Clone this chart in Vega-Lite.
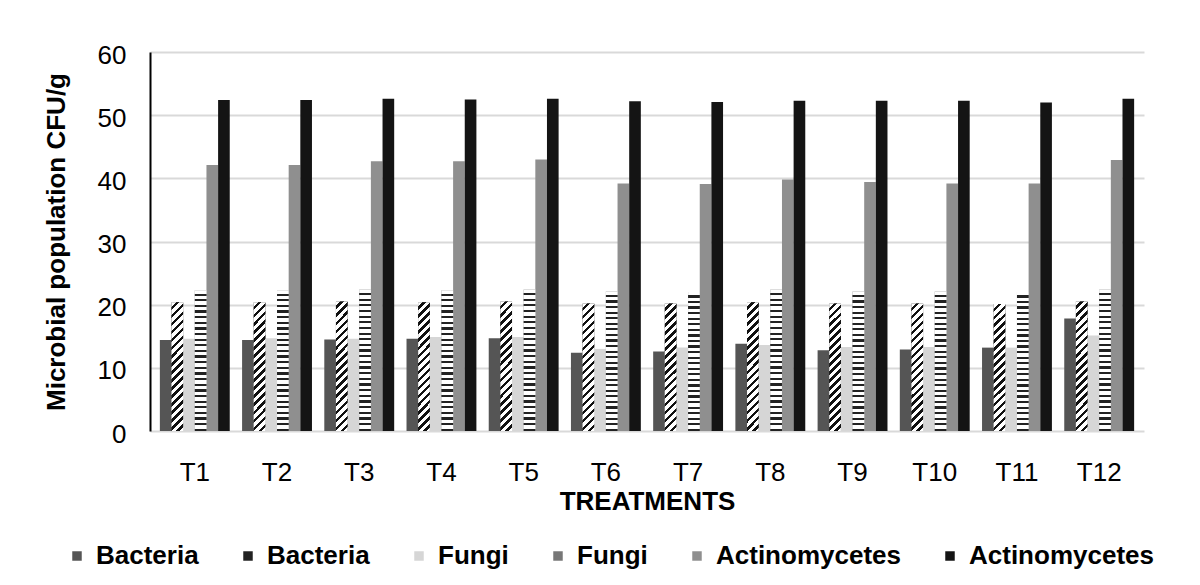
{
  "$schema": "https://vega.github.io/schema/vega-lite/v6.json",
  "autosize": {"type": "none"},
  "padding": {"left": 150, "top": 52, "right": 56, "bottom": 154},
  "width": 994,
  "height": 379,
  "background": "white",
  "config": {
    "font": "Liberation Sans",
    "view": {"stroke": null},
    "axis": {"labelColor": "black", "titleColor": "black", "labelFont": "Liberation Sans", "titleFont": "Liberation Sans"}
  },
  "data": {
    "values": [
      {"t": "T1", "s": "Bacteria 1", "v": 14.4}, {"t": "T1", "s": "Bacteria 2", "v": 20.4}, {"t": "T1", "s": "Fungi 1", "v": 14.6}, {"t": "T1", "s": "Fungi 2", "v": 22.3}, {"t": "T1", "s": "Actinomycetes 1", "v": 42.1}, {"t": "T1", "s": "Actinomycetes 2", "v": 52.4},
      {"t": "T2", "s": "Bacteria 1", "v": 14.4}, {"t": "T2", "s": "Bacteria 2", "v": 20.4}, {"t": "T2", "s": "Fungi 1", "v": 14.7}, {"t": "T2", "s": "Fungi 2", "v": 22.3}, {"t": "T2", "s": "Actinomycetes 1", "v": 42.1}, {"t": "T2", "s": "Actinomycetes 2", "v": 52.4},
      {"t": "T3", "s": "Bacteria 1", "v": 14.5}, {"t": "T3", "s": "Bacteria 2", "v": 20.5}, {"t": "T3", "s": "Fungi 1", "v": 14.6}, {"t": "T3", "s": "Fungi 2", "v": 22.4}, {"t": "T3", "s": "Actinomycetes 1", "v": 42.7}, {"t": "T3", "s": "Actinomycetes 2", "v": 52.6},
      {"t": "T4", "s": "Bacteria 1", "v": 14.6}, {"t": "T4", "s": "Bacteria 2", "v": 20.4}, {"t": "T4", "s": "Fungi 1", "v": 14.9}, {"t": "T4", "s": "Fungi 2", "v": 22.3}, {"t": "T4", "s": "Actinomycetes 1", "v": 42.7}, {"t": "T4", "s": "Actinomycetes 2", "v": 52.5},
      {"t": "T5", "s": "Bacteria 1", "v": 14.7}, {"t": "T5", "s": "Bacteria 2", "v": 20.5}, {"t": "T5", "s": "Fungi 1", "v": 14.9}, {"t": "T5", "s": "Fungi 2", "v": 22.4}, {"t": "T5", "s": "Actinomycetes 1", "v": 43.0}, {"t": "T5", "s": "Actinomycetes 2", "v": 52.6},
      {"t": "T6", "s": "Bacteria 1", "v": 12.4}, {"t": "T6", "s": "Bacteria 2", "v": 20.2}, {"t": "T6", "s": "Fungi 1", "v": 13.0}, {"t": "T6", "s": "Fungi 2", "v": 22.1}, {"t": "T6", "s": "Actinomycetes 1", "v": 39.2}, {"t": "T6", "s": "Actinomycetes 2", "v": 52.2},
      {"t": "T7", "s": "Bacteria 1", "v": 12.6}, {"t": "T7", "s": "Bacteria 2", "v": 20.2}, {"t": "T7", "s": "Fungi 1", "v": 13.2}, {"t": "T7", "s": "Fungi 2", "v": 22.0}, {"t": "T7", "s": "Actinomycetes 1", "v": 39.1}, {"t": "T7", "s": "Actinomycetes 2", "v": 52.1},
      {"t": "T8", "s": "Bacteria 1", "v": 13.8}, {"t": "T8", "s": "Bacteria 2", "v": 20.4}, {"t": "T8", "s": "Fungi 1", "v": 13.6}, {"t": "T8", "s": "Fungi 2", "v": 22.4}, {"t": "T8", "s": "Actinomycetes 1", "v": 39.8}, {"t": "T8", "s": "Actinomycetes 2", "v": 52.3},
      {"t": "T9", "s": "Bacteria 1", "v": 12.8}, {"t": "T9", "s": "Bacteria 2", "v": 20.2}, {"t": "T9", "s": "Fungi 1", "v": 13.3}, {"t": "T9", "s": "Fungi 2", "v": 22.1}, {"t": "T9", "s": "Actinomycetes 1", "v": 39.4}, {"t": "T9", "s": "Actinomycetes 2", "v": 52.3},
      {"t": "T10", "s": "Bacteria 1", "v": 12.9}, {"t": "T10", "s": "Bacteria 2", "v": 20.2}, {"t": "T10", "s": "Fungi 1", "v": 13.3}, {"t": "T10", "s": "Fungi 2", "v": 22.1}, {"t": "T10", "s": "Actinomycetes 1", "v": 39.2}, {"t": "T10", "s": "Actinomycetes 2", "v": 52.3},
      {"t": "T11", "s": "Bacteria 1", "v": 13.2}, {"t": "T11", "s": "Bacteria 2", "v": 20.1}, {"t": "T11", "s": "Fungi 1", "v": 13.2}, {"t": "T11", "s": "Fungi 2", "v": 22.0}, {"t": "T11", "s": "Actinomycetes 1", "v": 39.2}, {"t": "T11", "s": "Actinomycetes 2", "v": 52.0},
      {"t": "T12", "s": "Bacteria 1", "v": 17.8}, {"t": "T12", "s": "Bacteria 2", "v": 20.5}, {"t": "T12", "s": "Fungi 1", "v": 15.1}, {"t": "T12", "s": "Fungi 2", "v": 22.4}, {"t": "T12", "s": "Actinomycetes 1", "v": 42.9}, {"t": "T12", "s": "Actinomycetes 2", "v": 52.6}
    ]
  },
  "encoding": {
    "x": {
      "field": "t", "type": "nominal", "sort": null,
      "scale": {"paddingInner": 0.15, "paddingOuter": 0.12},
      "axis": {
        "title": "TREATMENTS", "titleFontSize": 26, "titleFontWeight": "bold", "titlePadding": 3,
        "labelFontSize": 26, "labelAngle": 0, "labelPadding": 28,
        "domain": false, "ticks": false, "tickSize": 0, "grid": false
      }
    },
    "xOffset": {
      "field": "s", "type": "nominal",
      "scale": {"domain": ["Bacteria 1", "Bacteria 2", "Fungi 1", "Fungi 2", "Actinomycetes 1", "Actinomycetes 2"], "paddingInner": 0, "paddingOuter": 0}
    },
    "y": {
      "field": "v", "type": "quantitative",
      "scale": {"domain": [0, 60], "nice": false},
      "axis": {
        "title": "Microbial population CFU/g", "titleFontSize": 26, "titleFontWeight": "bold", "titlePadding": 28,
        "values": [0, 10, 20, 30, 40, 50, 60],
        "labelFontSize": 26, "labelPadding": 24, "labelOffset": 3,
        "ticks": false, "tickSize": 0,
        "domain": true, "domainColor": "black", "domainWidth": 2,
        "grid": true, "gridColor": "#d9d9d9", "gridWidth": 2
      }
    }
  },
  "layer": [
    {
      "mark": {"type": "bar", "strokeWidth": 0},
      "encoding": {
        "color": {
          "field": "s", "type": "nominal",
          "scale": {
            "domain": ["Bacteria 1", "Bacteria 2", "Fungi 1", "Fungi 2", "Actinomycetes 1", "Actinomycetes 2"],
            "range": ["#555555", "#222222", "#d6d6d6", "#777777", "#8f8f8f", "#141414"]
          },
          "legend": {
            "orient": "none", "legendX": -86, "legendY": 491,
            "direction": "horizontal", "columns": 6, "title": null, "gridAlign": "each",
            "labelExpr": "split(datum.label, ' ')[0]", "labelLimit": 400,
            "labelFontSize": 26, "labelFontWeight": "bold", "labelColor": "black", "labelFont": "Liberation Sans",
            "symbolType": "square", "symbolSize": 90, "symbolStrokeWidth": 0, "labelOffset": 6, "columnPadding": 36
          }
        }
      }
    },
    {
      "transform": [{"filter": "datum.s == 'Bacteria 2'"}],
      "mark": {"type": "bar", "strokeWidth": 0, "color": {"gradient": "linear", "x1": 0, "y1": 0, "x2": 0.113, "y2": 1.24, "stops": [
            {"offset": 0, "color": "#ffffff"}, {"offset": 0.0275, "color": "#ffffff"}, {"offset": 0.0275, "color": "#111111"}, {"offset": 0.05, "color": "#111111"},
            {"offset": 0.05, "color": "#ffffff"}, {"offset": 0.0775, "color": "#ffffff"}, {"offset": 0.0775, "color": "#111111"}, {"offset": 0.1, "color": "#111111"},
            {"offset": 0.1, "color": "#ffffff"}, {"offset": 0.1275, "color": "#ffffff"}, {"offset": 0.1275, "color": "#111111"}, {"offset": 0.15, "color": "#111111"},
            {"offset": 0.15, "color": "#ffffff"}, {"offset": 0.1775, "color": "#ffffff"}, {"offset": 0.1775, "color": "#111111"}, {"offset": 0.2, "color": "#111111"},
            {"offset": 0.2, "color": "#ffffff"}, {"offset": 0.2275, "color": "#ffffff"}, {"offset": 0.2275, "color": "#111111"}, {"offset": 0.25, "color": "#111111"},
            {"offset": 0.25, "color": "#ffffff"}, {"offset": 0.2775, "color": "#ffffff"}, {"offset": 0.2775, "color": "#111111"}, {"offset": 0.3, "color": "#111111"},
            {"offset": 0.3, "color": "#ffffff"}, {"offset": 0.3275, "color": "#ffffff"}, {"offset": 0.3275, "color": "#111111"}, {"offset": 0.35, "color": "#111111"},
            {"offset": 0.35, "color": "#ffffff"}, {"offset": 0.3775, "color": "#ffffff"}, {"offset": 0.3775, "color": "#111111"}, {"offset": 0.4, "color": "#111111"},
            {"offset": 0.4, "color": "#ffffff"}, {"offset": 0.4275, "color": "#ffffff"}, {"offset": 0.4275, "color": "#111111"}, {"offset": 0.45, "color": "#111111"},
            {"offset": 0.45, "color": "#ffffff"}, {"offset": 0.4775, "color": "#ffffff"}, {"offset": 0.4775, "color": "#111111"}, {"offset": 0.5, "color": "#111111"},
            {"offset": 0.5, "color": "#ffffff"}, {"offset": 0.5275, "color": "#ffffff"}, {"offset": 0.5275, "color": "#111111"}, {"offset": 0.55, "color": "#111111"},
            {"offset": 0.55, "color": "#ffffff"}, {"offset": 0.5775, "color": "#ffffff"}, {"offset": 0.5775, "color": "#111111"}, {"offset": 0.6, "color": "#111111"},
            {"offset": 0.6, "color": "#ffffff"}, {"offset": 0.6275, "color": "#ffffff"}, {"offset": 0.6275, "color": "#111111"}, {"offset": 0.65, "color": "#111111"},
            {"offset": 0.65, "color": "#ffffff"}, {"offset": 0.6775, "color": "#ffffff"}, {"offset": 0.6775, "color": "#111111"}, {"offset": 0.7, "color": "#111111"},
            {"offset": 0.7, "color": "#ffffff"}, {"offset": 0.7275, "color": "#ffffff"}, {"offset": 0.7275, "color": "#111111"}, {"offset": 0.75, "color": "#111111"},
            {"offset": 0.75, "color": "#ffffff"}, {"offset": 0.7775, "color": "#ffffff"}, {"offset": 0.7775, "color": "#111111"}, {"offset": 0.8, "color": "#111111"},
            {"offset": 0.8, "color": "#ffffff"}, {"offset": 0.8275, "color": "#ffffff"}, {"offset": 0.8275, "color": "#111111"}, {"offset": 0.85, "color": "#111111"},
            {"offset": 0.85, "color": "#ffffff"}, {"offset": 0.8775, "color": "#ffffff"}, {"offset": 0.8775, "color": "#111111"}, {"offset": 0.9, "color": "#111111"},
            {"offset": 0.9, "color": "#ffffff"}, {"offset": 0.9275, "color": "#ffffff"}, {"offset": 0.9275, "color": "#111111"}, {"offset": 0.95, "color": "#111111"},
            {"offset": 0.95, "color": "#ffffff"}, {"offset": 0.9775, "color": "#ffffff"}, {"offset": 0.9775, "color": "#111111"}, {"offset": 1, "color": "#111111"}
          ]}}
    },
    {
      "transform": [{"filter": "datum.s == 'Fungi 2'"}],
      "mark": {"type": "bar", "strokeWidth": 0, "color": {"gradient": "linear", "x1": 0, "y1": 0, "x2": 0, "y2": 1, "stops": [
            {"offset": 0, "color": "#ffffff"}, {"offset": 0.024, "color": "#ffffff"}, {"offset": 0.024, "color": "#222222"}, {"offset": 0.04, "color": "#222222"},
            {"offset": 0.04, "color": "#ffffff"}, {"offset": 0.064, "color": "#ffffff"}, {"offset": 0.064, "color": "#222222"}, {"offset": 0.08, "color": "#222222"},
            {"offset": 0.08, "color": "#ffffff"}, {"offset": 0.104, "color": "#ffffff"}, {"offset": 0.104, "color": "#222222"}, {"offset": 0.12, "color": "#222222"},
            {"offset": 0.12, "color": "#ffffff"}, {"offset": 0.144, "color": "#ffffff"}, {"offset": 0.144, "color": "#222222"}, {"offset": 0.16, "color": "#222222"},
            {"offset": 0.16, "color": "#ffffff"}, {"offset": 0.184, "color": "#ffffff"}, {"offset": 0.184, "color": "#222222"}, {"offset": 0.2, "color": "#222222"},
            {"offset": 0.2, "color": "#ffffff"}, {"offset": 0.224, "color": "#ffffff"}, {"offset": 0.224, "color": "#222222"}, {"offset": 0.24, "color": "#222222"},
            {"offset": 0.24, "color": "#ffffff"}, {"offset": 0.264, "color": "#ffffff"}, {"offset": 0.264, "color": "#222222"}, {"offset": 0.28, "color": "#222222"},
            {"offset": 0.28, "color": "#ffffff"}, {"offset": 0.304, "color": "#ffffff"}, {"offset": 0.304, "color": "#222222"}, {"offset": 0.32, "color": "#222222"},
            {"offset": 0.32, "color": "#ffffff"}, {"offset": 0.344, "color": "#ffffff"}, {"offset": 0.344, "color": "#222222"}, {"offset": 0.36, "color": "#222222"},
            {"offset": 0.36, "color": "#ffffff"}, {"offset": 0.384, "color": "#ffffff"}, {"offset": 0.384, "color": "#222222"}, {"offset": 0.4, "color": "#222222"},
            {"offset": 0.4, "color": "#ffffff"}, {"offset": 0.424, "color": "#ffffff"}, {"offset": 0.424, "color": "#222222"}, {"offset": 0.44, "color": "#222222"},
            {"offset": 0.44, "color": "#ffffff"}, {"offset": 0.464, "color": "#ffffff"}, {"offset": 0.464, "color": "#222222"}, {"offset": 0.48, "color": "#222222"},
            {"offset": 0.48, "color": "#ffffff"}, {"offset": 0.504, "color": "#ffffff"}, {"offset": 0.504, "color": "#222222"}, {"offset": 0.52, "color": "#222222"},
            {"offset": 0.52, "color": "#ffffff"}, {"offset": 0.544, "color": "#ffffff"}, {"offset": 0.544, "color": "#222222"}, {"offset": 0.56, "color": "#222222"},
            {"offset": 0.56, "color": "#ffffff"}, {"offset": 0.584, "color": "#ffffff"}, {"offset": 0.584, "color": "#222222"}, {"offset": 0.6, "color": "#222222"},
            {"offset": 0.6, "color": "#ffffff"}, {"offset": 0.624, "color": "#ffffff"}, {"offset": 0.624, "color": "#222222"}, {"offset": 0.64, "color": "#222222"},
            {"offset": 0.64, "color": "#ffffff"}, {"offset": 0.664, "color": "#ffffff"}, {"offset": 0.664, "color": "#222222"}, {"offset": 0.68, "color": "#222222"},
            {"offset": 0.68, "color": "#ffffff"}, {"offset": 0.704, "color": "#ffffff"}, {"offset": 0.704, "color": "#222222"}, {"offset": 0.72, "color": "#222222"},
            {"offset": 0.72, "color": "#ffffff"}, {"offset": 0.744, "color": "#ffffff"}, {"offset": 0.744, "color": "#222222"}, {"offset": 0.76, "color": "#222222"},
            {"offset": 0.76, "color": "#ffffff"}, {"offset": 0.784, "color": "#ffffff"}, {"offset": 0.784, "color": "#222222"}, {"offset": 0.8, "color": "#222222"},
            {"offset": 0.8, "color": "#ffffff"}, {"offset": 0.824, "color": "#ffffff"}, {"offset": 0.824, "color": "#222222"}, {"offset": 0.84, "color": "#222222"},
            {"offset": 0.84, "color": "#ffffff"}, {"offset": 0.864, "color": "#ffffff"}, {"offset": 0.864, "color": "#222222"}, {"offset": 0.88, "color": "#222222"},
            {"offset": 0.88, "color": "#ffffff"}, {"offset": 0.904, "color": "#ffffff"}, {"offset": 0.904, "color": "#222222"}, {"offset": 0.92, "color": "#222222"},
            {"offset": 0.92, "color": "#ffffff"}, {"offset": 0.944, "color": "#ffffff"}, {"offset": 0.944, "color": "#222222"}, {"offset": 0.96, "color": "#222222"},
            {"offset": 0.96, "color": "#ffffff"}, {"offset": 0.984, "color": "#ffffff"}, {"offset": 0.984, "color": "#222222"}, {"offset": 1, "color": "#222222"}
          ]}}
    }
  ]
}
